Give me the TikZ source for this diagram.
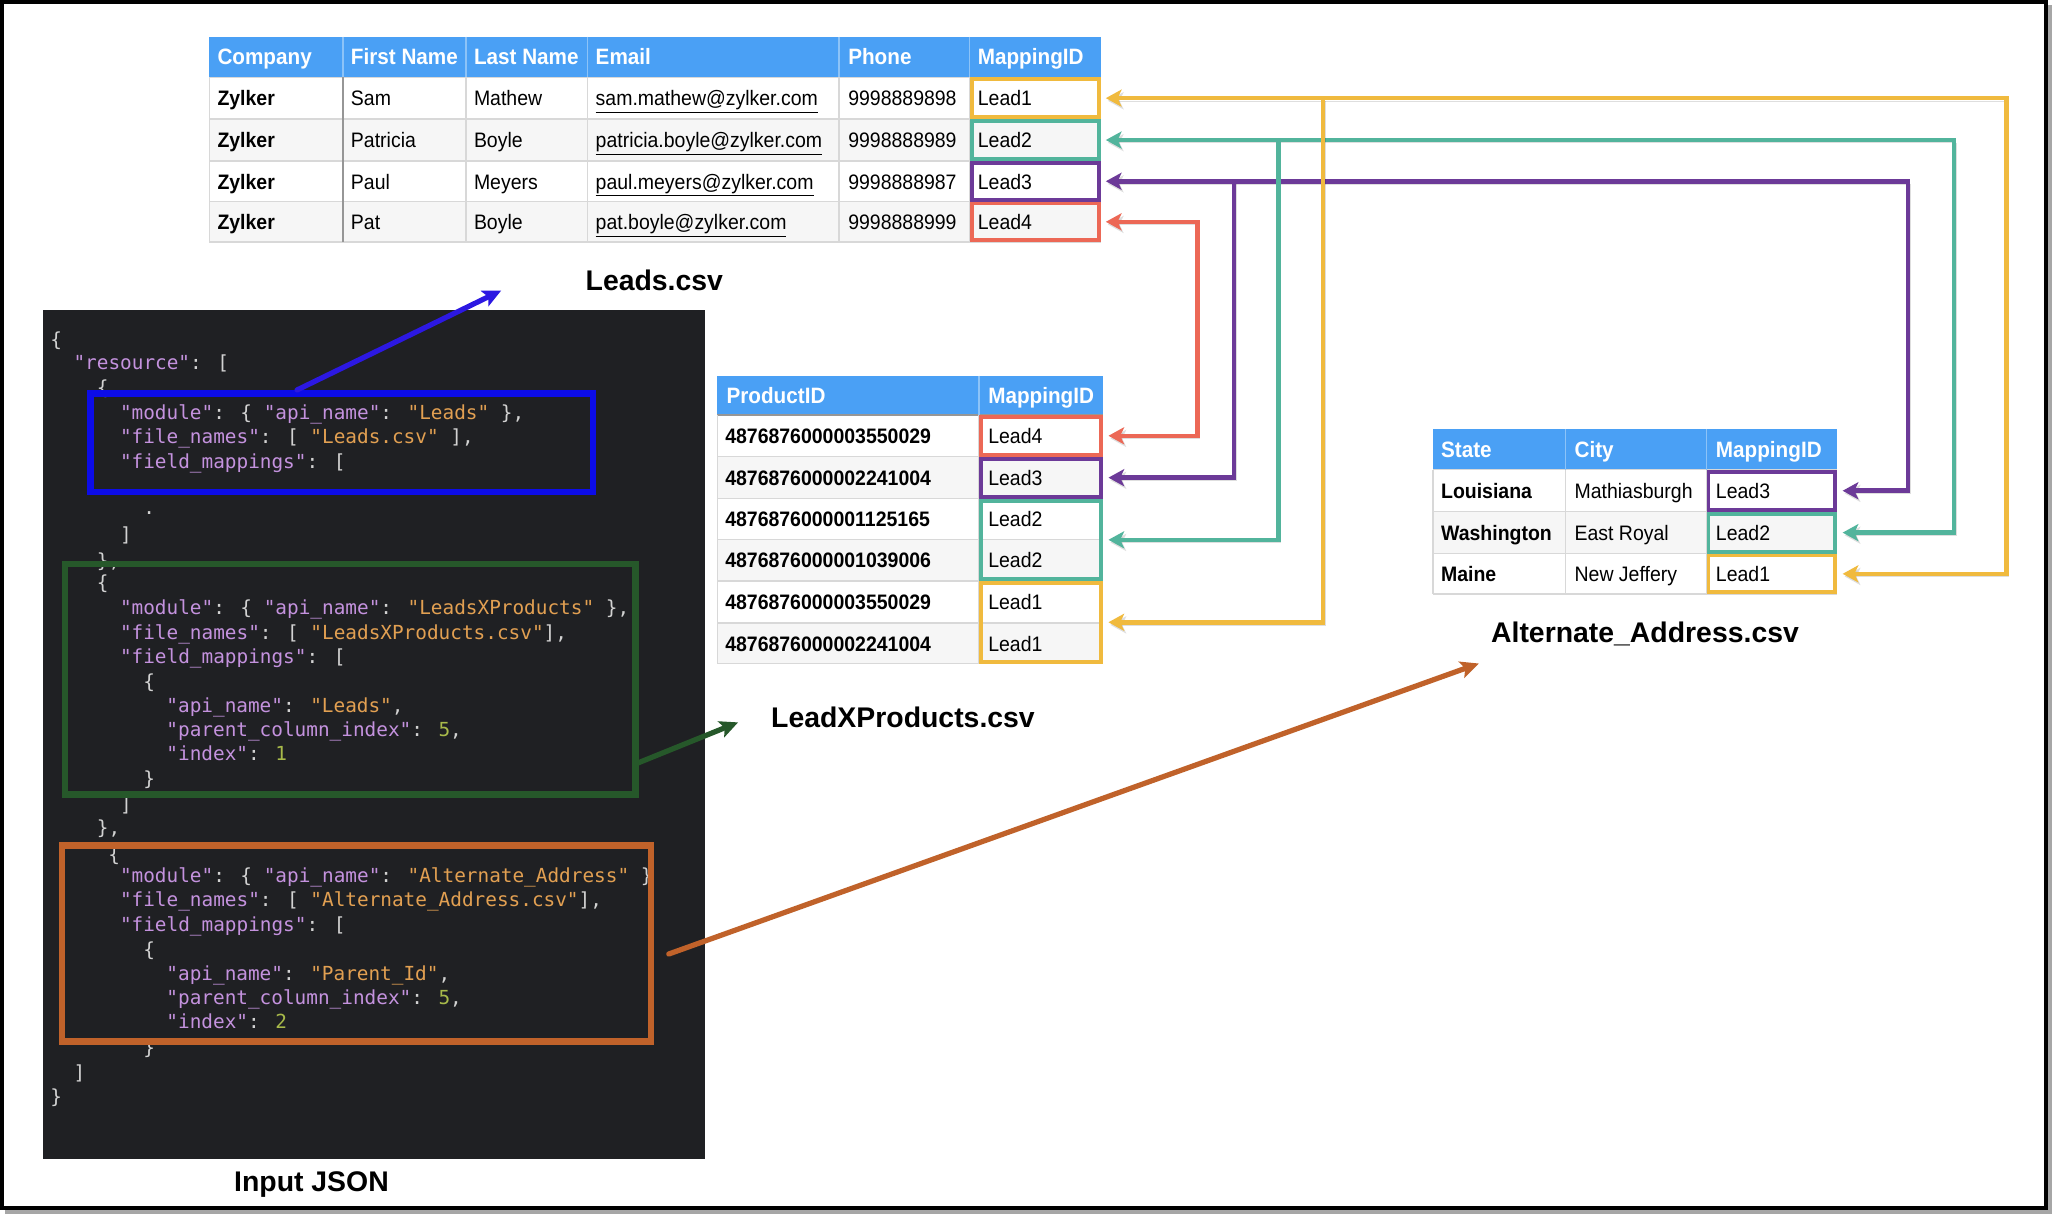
\documentclass[tikz,border=0pt]{standalone}
\usepackage{fontspec}
\setmainfont{Liberation Sans}
\newfontfamily\cellfam[FakeStretch=0.93]{Liberation Sans}
\newfontfamily\jsonfont{DejaVu Sans Mono}
\usetikzlibrary{arrows.meta}

\definecolor{hdrblue}{RGB}{74,160,245}
\definecolor{hdrline}{RGB}{140,195,248}
\definecolor{rowgray}{RGB}{246,246,246}
\definecolor{gridgray}{RGB}{216,216,216}
\definecolor{darkgrid}{RGB}{150,150,150}
\definecolor{cyel}{RGB}{240,186,62}
\definecolor{cteal}{RGB}{82,180,156}
\definecolor{cpur}{RGB}{108,58,152}
\definecolor{cred}{RGB}{236,104,86}
\definecolor{jbg}{RGB}{31,32,35}
\definecolor{jkey}{RGB}{196,146,222}
\definecolor{jstr}{RGB}{226,160,82}
\definecolor{jnum}{RGB}{168,186,74}
\definecolor{jpun}{RGB}{210,210,210}
\definecolor{bbox}{RGB}{12,12,232}
\definecolor{barrow}{RGB}{44,24,226}
\definecolor{gbox}{RGB}{38,88,42}
\definecolor{obox}{RGB}{192,98,42}

\newcommand\jk[1]{\textcolor{jkey}{#1}}
\newcommand\js[1]{\textcolor{jstr}{#1}}
\newcommand\jn[1]{\textcolor{jnum}{#1}}
\newcommand\cellfont{\cellfam\fontsize{16}{18}\selectfont}
\newcommand\hdrfont{\cellfam\bfseries\fontsize{17}{19}\selectfont}

\tikzset{
  ct/.style={anchor=base west, inner sep=0pt, font=\cellfont, text=black},
  ctb/.style={anchor=base west, inner sep=0pt, font=\cellfont\bfseries, text=black},
  ht/.style={anchor=base west, inner sep=0pt, font=\hdrfont, text=white},
  mbox/.style={draw=#1, line width=3pt, inner sep=0pt},
  conn/.style={draw=#1, line width=3.5pt, line cap=rect,
    -{Stealth[length=12pt,width=13pt,inset=3pt]}, shorten >=4pt,
    preaction={draw=black, opacity=0.13, transform canvas={shift={(1.5pt,-2pt)}}}},
  jl/.style={anchor=base west, inner sep=0pt,
    font=\jsonfont\fontsize{14.8}{18}\selectfont, text=jpun},
  jbox/.style={draw=#1, line width=5pt, inner sep=0pt},
  jarrow/.style={draw=#1, line width=4pt, line cap=round,
    -{Stealth[length=14pt,width=13pt,inset=3pt]}},
  lbl/.style={anchor=base, inner sep=0pt, font=\bfseries\fontsize{21.7}{24}\selectfont, text=black},
  grid/.style={draw=gridgray, line width=1pt},
}

\begin{document}
\begin{tikzpicture}[x=1pt,y=-1pt]
\useasboundingbox (0,0) rectangle (1568,928);
\fill[white] (0,0) rectangle (1568,928);
% frame
\fill[black!35] (4,924) rectangle (1568,928);
\fill[black!35] (1564,4) rectangle (1568,928);
\draw[black, line width=3pt] (1.5,1.5) rectangle (1563.5,923);

% ================= Leads table =================
\fill[hdrblue] (160,28) rectangle (841,59);
\fill[rowgray] (160,91) rectangle (841,123);
\fill[rowgray] (160,154) rectangle (841,185);
\foreach \y in {59,91,123,154,185} \draw[grid] (160,\y) -- (841,\y);
\foreach \x in {160,356,449,641,741} \draw[grid] (\x,59) -- (\x,185);
\draw[darkgrid, line width=1pt] (262,59) -- (262,185);
\foreach \x in {262,356,449,641,741} \draw[hdrline, line width=1pt] (\x,28) -- (\x,59);

\node[ht] (lhA) at (166,49.5) {Company};
\node[ht] (lhB) at (268,49.5) {First Name};
\node[ht] (lhC) at (362,49.5) {Last Name};
\node[ht] (lhD) at (455,49.5) {Email};
\node[ht] (lhE) at (648,49.5) {Phone};
\node[ht] (lhF) at (747,49.5) {MappingID};

\node[ctb] (l1a) at (166,81) {Zylker};
\node[ct] (l1b) at (268,81) {Sam};
\node[ct] (l1c) at (362,81) {Mathew};
\node[ct] (l1d) at (455,81) {\underline{sam.mathew@zylker.com}};
\node[ct] (l1e) at (648,81) {9998889898};
\node[ct] (l1f) at (747,81) {Lead1};

\node[ctb] (l2a) at (166,113) {Zylker};
\node[ct] (l2b) at (268,113) {Patricia};
\node[ct] (l2c) at (362,113) {Boyle};
\node[ct] (l2d) at (455,113) {\underline{patricia.boyle@zylker.com}};
\node[ct] (l2e) at (648,113) {9998888989};
\node[ct] (l2f) at (747,113) {Lead2};

\node[ctb] (l3a) at (166,144.5) {Zylker};
\node[ct] (l3b) at (268,144.5) {Paul};
\node[ct] (l3c) at (362,144.5) {Meyers};
\node[ct] (l3d) at (455,144.5) {\underline{paul.meyers@zylker.com}};
\node[ct] (l3e) at (648,144.5) {9998888987};
\node[ct] (l3f) at (747,144.5) {Lead3};

\node[ctb] (l4a) at (166,175.5) {Zylker};
\node[ct] (l4b) at (268,175.5) {Pat};
\node[ct] (l4c) at (362,175.5) {Boyle};
\node[ct] (l4d) at (455,175.5) {\underline{pat.boyle@zylker.com}};
\node[ct] (l4e) at (648,175.5) {9998888999};
\node[ct] (l4f) at (747,175.5) {Lead4};

\node[mbox=cyel, minimum width=97pt, minimum height=29pt] (lm1) at (791,75) {};
\node[mbox=cteal, minimum width=97pt, minimum height=29pt] (lm2) at (791,107) {};
\node[mbox=cpur, minimum width=97pt, minimum height=28pt] (lm3) at (791,138.5) {};
\node[mbox=cred, minimum width=97pt, minimum height=28pt] (lm4) at (791,169.5) {};

\node[lbl] (leadslbl) at (500,221.6) {Leads.csv};

% ================= LeadXProducts table =================
\fill[hdrblue] (548,287) rectangle (843,317);
\fill[rowgray] (548,349) rectangle (843,381);
\fill[rowgray] (548,412) rectangle (843,444);
\fill[rowgray] (548,476) rectangle (843,507);
\foreach \y in {349,381,412,444,476,507} \draw[grid] (548,\y) -- (843,\y);
\draw[darkgrid, line width=1pt] (548,317) -- (843,317);
\foreach \x in {548,748} \draw[grid] (\x,317) -- (\x,507);
\draw[hdrline, line width=1pt] (748,287) -- (748,317);

\node[ht] (xhA) at (555,308) {ProductID};
\node[ht] (xhB) at (755,308) {MappingID};

\node[ctb] (x1a) at (554,339) {4876876000003550029};
\node[ct] (x1b) at (755,339) {Lead4};
\node[ctb] (x2a) at (554,371) {4876876000002241004};
\node[ct] (x2b) at (755,371) {Lead3};
\node[ctb] (x3a) at (554,402.5) {4876876000001125165};
\node[ct] (x3b) at (755,402.5) {Lead2};
\node[ctb] (x4a) at (554,434) {4876876000001039006};
\node[ct] (x4b) at (755,434) {Lead2};
\node[ctb] (x5a) at (554,466) {4876876000003550029};
\node[ct] (x5b) at (755,466) {Lead1};
\node[ctb] (x6a) at (554,497.5) {4876876000002241004};
\node[ct] (x6b) at (755,497.5) {Lead1};

\node[mbox=cred, minimum width=92pt, minimum height=29pt] (xm4) at (795.5,333) {};
\node[mbox=cpur, minimum width=92pt, minimum height=29pt] (xm3) at (795.5,365) {};
\node[mbox=cteal, minimum width=92pt, minimum height=60pt] (xm2) at (795.5,412.5) {};
\node[mbox=cyel, minimum width=92pt, minimum height=60pt] (xm1) at (795.5,475.5) {};

\node[lbl] (lxlbl) at (690,555.8) {LeadXProducts.csv};

% ================= Alternate_Address table =================
\fill[hdrblue] (1095,328) rectangle (1404,359);
\fill[rowgray] (1095,391) rectangle (1404,423);
\foreach \y in {359,391,423,454} \draw[grid] (1095,\y) -- (1404,\y);
\foreach \x in {1095,1196,1304} \draw[grid] (\x,359) -- (\x,454);
\foreach \x in {1196,1304} \draw[hdrline, line width=1pt] (\x,328) -- (\x,359);

\node[ht] (ahA) at (1101,349.5) {State};
\node[ht] (ahB) at (1203,349.5) {City};
\node[ht] (ahC) at (1311,349.5) {MappingID};

\node[ctb] (a1a) at (1101,381) {Louisiana};
\node[ct] (a1b) at (1203,381) {Mathiasburgh};
\node[ct] (a1c) at (1311,381) {Lead3};
\node[ctb] (a2a) at (1101,413) {Washington};
\node[ct] (a2b) at (1203,413) {East Royal};
\node[ct] (a2c) at (1311,413) {Lead2};
\node[ctb] (a3a) at (1101,444.5) {Maine};
\node[ct] (a3b) at (1203,444.5) {New Jeffery};
\node[ct] (a3c) at (1311,444.5) {Lead1};

\node[mbox=cpur, minimum width=97pt, minimum height=29pt] (am3) at (1354,375) {};
\node[mbox=cteal, minimum width=97pt, minimum height=29pt] (am2) at (1354,407) {};
\node[mbox=cyel, minimum width=97pt, minimum height=28pt] (am1) at (1354,438.5) {};

\node[lbl] (altlbl) at (1257,490.8) {Alternate\_Address.csv};

% ================= connectors =================
\coordinate (cr0) at (915,169.5);
\draw[conn=cred] (cr0) -- (lm4.east);
\draw[conn=cred] (cr0) |- (xm4.east);

\coordinate (cp0) at (1458,138.5);
\coordinate (cp1) at (943,138.5);
\draw[conn=cpur] (cp0) -- (lm3.east);
\draw[conn=cpur] (cp0) |- (am3.east);
\draw[conn=cpur] (cp1) |- (xm3.east);

\coordinate (ct0) at (1493,107);
\coordinate (ct1) at (977,107);
\draw[conn=cteal] (ct0) -- (lm2.east);
\draw[conn=cteal] (ct0) |- (am2.east);
\draw[conn=cteal] (ct1) |- (xm2.east);

\coordinate (cy0) at (1533,75);
\coordinate (cy1) at (1011,75);
\draw[conn=cyel] (cy0) -- (lm1.east);
\draw[conn=cyel] (cy0) |- (am1.east);
\draw[conn=cyel] (cy1) |- (xm1.east);

% ================= JSON panel =================
\node[fill=jbg, minimum width=506pt, minimum height=649pt, inner sep=0pt] (json) at (286,561.5) {};

\node[jl] (j01) at (38.3,265) {\{};
\node[jl] (j02) at (56.0,282.6) {\jk{"resource"}: [};
\node[jl] (j03) at (73.8,301.5) {\{};
\node[jl] (j04) at (91.5,320.8) {\jk{"module"}: \{ \jk{"api\_name"}: \js{"Leads"} \},};
\node[jl] (j05) at (91.5,339.2) {\jk{"file\_names"}: [ \js{"Leads.csv"} ],};
\node[jl] (j06) at (91.5,358.3) {\jk{"field\_mappings"}: [};
\node[jl] (j07) at (109.3,393) {.};
\node[jl] (j08) at (91.5,413.8) {]};
\node[jl] (j09) at (73.8,434) {\},};
\node[jl] (j10) at (73.8,450.7) {\{};
\node[jl] (j11) at (91.5,469.8) {\jk{"module"}: \{ \jk{"api\_name"}: \js{"LeadsXProducts"} \},};
\node[jl] (j12) at (91.5,488.4) {\jk{"file\_names"}: [ \js{"LeadsXProducts.csv"}],};
\node[jl] (j13) at (91.5,507.3) {\jk{"field\_mappings"}: [};
\node[jl] (j14) at (109.3,525.9) {\{};
\node[jl] (j15) at (127,544.2) {\jk{"api\_name"}: \js{"Leads"},};
\node[jl] (j16) at (127,562.8) {\jk{"parent\_column\_index"}: \jn{5},};
\node[jl] (j17) at (127,581.1) {\jk{"index"}: \jn{1}};
\node[jl] (j18) at (109.3,600.5) {\}};
\node[jl] (j19) at (91.5,620) {]};
\node[jl] (j20) at (73.8,638) {\},};
\node[jl] (j21) at (82.7,658) {\{};
\node[jl] (j22) at (91.5,674) {\jk{"module"}: \{ \jk{"api\_name"}: \js{"Alternate\_Address"} \}};
\node[jl] (j23) at (91.5,693) {\jk{"file\_names"}: [ \js{"Alternate\_Address.csv"}],};
\node[jl] (j24) at (91.5,712) {\jk{"field\_mappings"}: [};
\node[jl] (j25) at (109.3,731) {\{};
\node[jl] (j26) at (127,749) {\jk{"api\_name"}: \js{"Parent\_Id"},};
\node[jl] (j27) at (127,767.8) {\jk{"parent\_column\_index"}: \jn{5},};
\node[jl] (j28) at (127,786) {\jk{"index"}: \jn{2}};
\node[jl] (j29) at (109.3,806) {\}};
\node[jl] (j30) at (56.0,824.7) {]};
\node[jl] (j31) at (38.3,843) {\}};

\node[jbox=bbox, minimum width=384pt, minimum height=75.5pt] (bluebox) at (261,338.25) {};
\node[jbox=gbox, minimum width=436pt, minimum height=176pt] (greenbox) at (267.5,519) {};
\node[jbox=obox, minimum width=450pt, minimum height=150pt] (orangebox) at (272.5,721) {};

\node[lbl] (jsonlbl) at (238,910.8) {Input JSON};

% ================= JSON arrows =================
\coordinate (bs) at (227,298);
\coordinate (be) at (383,222);
\draw[jarrow=barrow] (bs) -- (be);
\coordinate (gs) at (485,584);
\coordinate (ge) at (564,552);
\draw[jarrow=gbox] (gs) -- (ge);
\coordinate (os) at (511,729);
\coordinate (oe) at (1130,507);
\draw[jarrow=obox] (os) -- (oe);
\end{tikzpicture}
\end{document}
